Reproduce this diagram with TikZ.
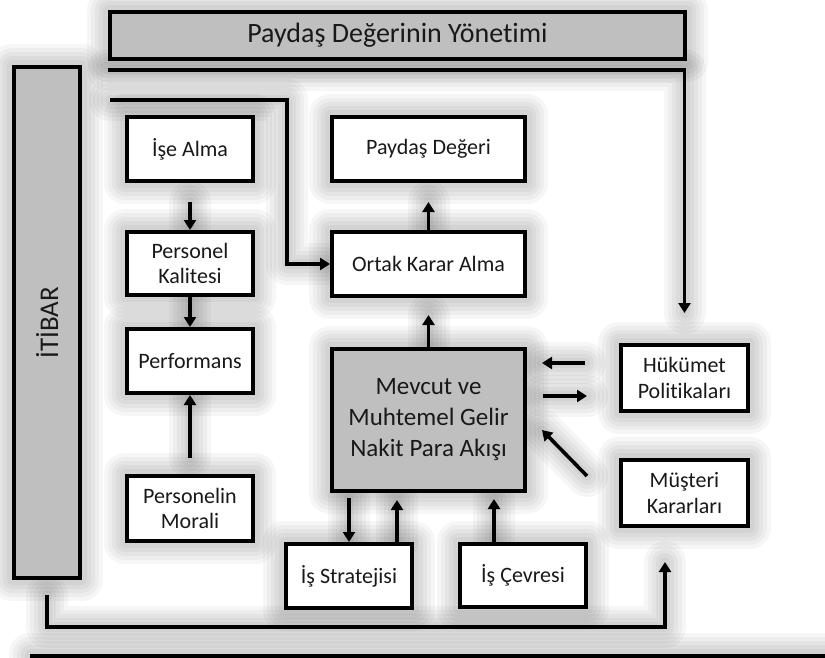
\documentclass[tikz,border=0pt]{standalone}
\usepackage{fontspec}
\setmainfont{Carlito}[Ligatures=NoCommon]
\usetikzlibrary{arrows.meta,calc}
\pgfdeclarelayer{paper}
\pgfdeclarelayer{glow}
\pgfsetlayers{paper,glow,main}

\definecolor{boxgray}{RGB}{191,191,191}
\definecolor{ink}{RGB}{25,25,25}

\tikzset{
  box/.style={draw=black, line width=4pt, fill=white, inner sep=0pt, align=center,
    text=ink, font=\fontsize{22}{25.5}\selectfont},
  graybox/.style={box, fill=boxgray},
  conn/.style={draw=black, line width=3.6pt},
  tip/.style={-{Triangle[width=12pt,length=10pt]}},
  hl/.style={draw=black, draw opacity=0.034, line join=round, line cap=round, line width=#1},
  halo/.style={hl=42pt, preaction={hl=34pt}, preaction={hl=26pt},
    preaction={hl=18pt}, preaction={hl=10pt}},
}

% all connectors, reused for their soft shadow
\newcommand\linkpaths{%
  \draw[conn,tip] (l1s) -| ($(hukumet.north)+(0,-30)$);
  \draw[conn,tip] (l2s) -- (l2k) |- (ortak.west);
  \draw[conn,tip,shorten <=19pt] (ise) -- (kalite);
  \draw[conn,tip] (kalite) -- (perf);
  \draw[conn,tip,shorten <=16pt] (moral) -- (perf);
  \draw[conn,tip,shorten >=19pt] (ortak) -- (deger);
  \draw[conn,tip,shorten >=17pt] (mevcut) -- (ortak);
  \draw[conn,tip,shorten <=34pt,shorten >=15pt] (hukumet.west |- r1) -- (mevcut.east |- r1);
  \draw[conn,tip,shorten <=16pt,shorten >=32pt] (mevcut.east |- r2) -- (hukumet.west |- r2);
  \draw[conn,tip] ($(musteri.west)+(-32,-17)$) -- ($(mevcut.east)+(15,10)$);
  \draw[conn,tip,shorten <=5pt] (mevcut.south -| strateji.north) -- (strateji.north);
  \draw[conn,tip,shorten >=7pt] (strateji.north -| c1) -- (mevcut.south -| c1);
  \draw[conn,tip,shorten >=6pt] (cevre.north -| c2) -- (mevcut.south -| c2);
  \draw[conn,tip,shorten <=15pt,shorten >=34pt] (itibar.south) |- (bk) -- (bk |- musteri.south);
}

\begin{document}
\begin{tikzpicture}[x=1pt,y=-1pt]
  \useasboundingbox (0,0) rectangle (825,658);
  \begin{pgfonlayer}{paper}
    \fill[white] (0,0) rectangle (825,658);
  \end{pgfonlayer}

  % boxes
  \node[graybox, minimum width=575pt, minimum height=47pt,
        font=\fontsize{28}{32}\selectfont] (top) at (397.5,35.5) {Paydaş Değerinin Yönetimi};
  \node[graybox, minimum width=66pt, minimum height=511pt,
        font=\fontsize{27}{30}\selectfont] (itibar) at (47,322.5) {\rotatebox{90}{İTİBAR}};

  \node[box, minimum width=126pt, minimum height=64pt] (ise) at (190,149) {İşe Alma};
  \node[box, minimum width=126pt, minimum height=63pt] (kalite) at (190,263.5) {Personel\\Kalitesi};
  \node[box, minimum width=126pt, minimum height=64pt] (perf) at (190,361) {Performans};
  \node[box, minimum width=126pt, minimum height=65pt] (moral) at (190,508.5) {Personelin\\Morali};

  \node[box, minimum width=193pt, minimum height=64pt] (deger) at (428.5,149) {Paydaş Değeri};
  \node[box, minimum width=193pt, minimum height=64pt] (ortak) at (428.5,264) {Ortak Karar Alma};
  \node[graybox, minimum width=193pt, minimum height=142pt,
        font=\fontsize{25}{31}\selectfont] (mevcut) at (428.5,420) {Mevcut ve\\Muhtemel Gelir\\Nakit Para Akışı};

  \node[box, minimum width=127pt, minimum height=66pt] (hukumet) at (684.5,378) {Hükümet\\Politikaları};
  \node[box, minimum width=127pt, minimum height=66pt] (musteri) at (684.5,493) {Müşteri\\Kararları};

  \node[box, minimum width=126pt, minimum height=64pt] (strateji) at (349,576) {İş Stratejisi};
  \node[box, minimum width=126pt, minimum height=63pt] (cevre) at (523,575.5) {İş Çevresi};

  \node[box, minimum width=830pt, minimum height=40pt, anchor=north west] (base) at (30,654) {};

  % fixed points of the connectors
  \coordinate (l1s) at (108,70);
  \coordinate (l2s) at (110,100);
  \coordinate (l2k) at (287,100);
  \coordinate (r1) at (0,363);
  \coordinate (r2) at (0,396);
  \coordinate (c1) at (397,0);
  \coordinate (c2) at (494,0);
  \coordinate (bk) at (665,627);

  \linkpaths

  % soft shadows behind everything
  \begin{pgfonlayer}{glow}
    \foreach \n in {top,itibar,ise,kalite,perf,moral,deger,ortak,mevcut,hukumet,musteri,strateji,cevre,base}
      \path[halo] (\n.north west) rectangle (\n.south east);
    \tikzset{conn/.style={halo}, tip/.style={}}
    \linkpaths
  \end{pgfonlayer}
\end{tikzpicture}
\end{document}
